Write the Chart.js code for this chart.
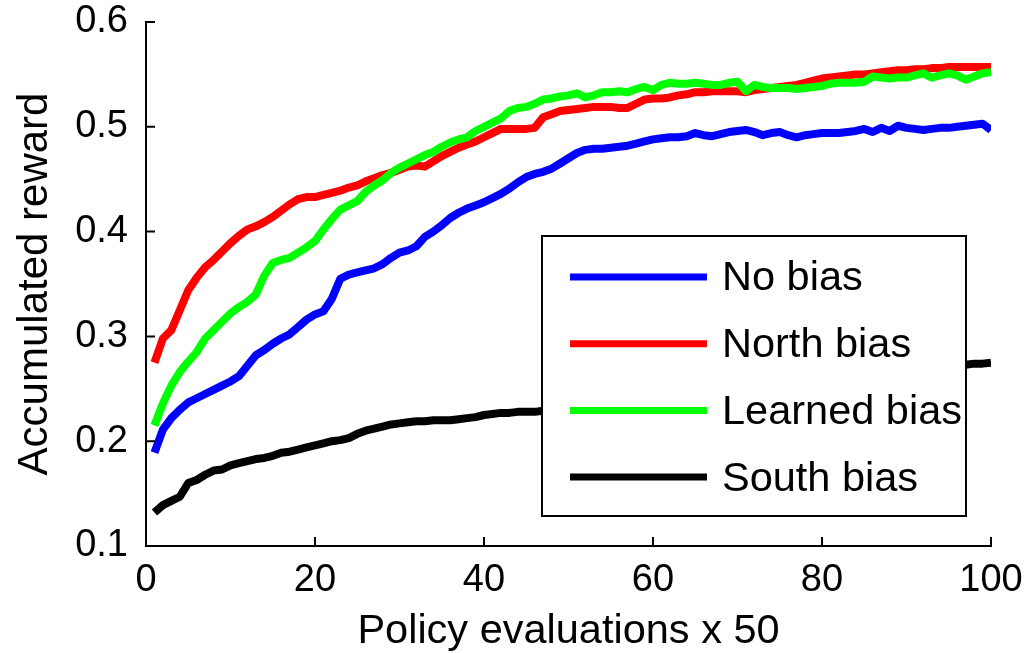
<!DOCTYPE html>
<html>
<head>
<meta charset="utf-8">
<title>Accumulated reward</title>
<script src="https://cdn.jsdelivr.net/npm/chart.js@4.4.1/dist/chart.umd.min.js"></script>
<style>
    html, body { margin: 0; padding: 0; background: #fff; }
    #wrap { width: 1036px; height: 653px; }
</style>
</head>
<body>
<div id="wrap"><canvas id="rewardChart" width="1036" height="653"></canvas></div>
<script>
// evaluations 1..100 (x 50 policy evaluations)
const evaluations = Array.from({ length: 100 }, (_, i) => i + 1);

const seriesNames = ['No bias', 'North bias', 'Learned bias', 'South bias'];
const seriesColors = ['#0000ff', '#ff0000', '#00ff00', '#000000'];

const noBias = [
    0.189, 0.211, 0.222, 0.230, 0.237, 0.241, 0.245, 0.249, 0.253, 0.257,
    0.262, 0.272, 0.282, 0.287, 0.293, 0.298, 0.302, 0.309, 0.316, 0.321,
    0.324, 0.336, 0.355, 0.359, 0.361, 0.363, 0.365, 0.369, 0.375, 0.380,
    0.382, 0.386, 0.395, 0.400, 0.406, 0.413, 0.418, 0.422, 0.425, 0.428,
    0.432, 0.436, 0.441, 0.447, 0.452, 0.455, 0.457, 0.460, 0.465, 0.470,
    0.475, 0.478, 0.479, 0.479, 0.480, 0.481, 0.482, 0.484, 0.486, 0.488,
    0.489, 0.490, 0.490, 0.491, 0.494, 0.492, 0.491, 0.493, 0.495, 0.496,
    0.497, 0.495, 0.492, 0.494, 0.495, 0.492, 0.490, 0.492, 0.493, 0.494,
    0.494, 0.494, 0.495, 0.496, 0.498, 0.495, 0.499, 0.496, 0.501, 0.499,
    0.498, 0.497, 0.498, 0.499, 0.499, 0.500, 0.501, 0.502, 0.503, 0.497
];

const northBias = [
    0.275, 0.298, 0.306, 0.325, 0.344, 0.356, 0.366, 0.373, 0.381, 0.389,
    0.396, 0.402, 0.405, 0.409, 0.414, 0.420, 0.426, 0.431, 0.433, 0.433,
    0.435, 0.437, 0.439, 0.442, 0.444, 0.448, 0.451, 0.454, 0.456, 0.459,
    0.462, 0.463, 0.462, 0.467, 0.472, 0.476, 0.480, 0.483, 0.486, 0.490,
    0.494, 0.498, 0.498, 0.498, 0.498, 0.499, 0.509, 0.512, 0.515, 0.516,
    0.517, 0.518, 0.519, 0.519, 0.519, 0.518, 0.518, 0.522, 0.526, 0.527,
    0.527, 0.528, 0.530, 0.531, 0.533, 0.533, 0.534, 0.534, 0.534, 0.534,
    0.533, 0.535, 0.536, 0.537, 0.538, 0.539, 0.540, 0.542, 0.544, 0.546,
    0.547, 0.548, 0.549, 0.550, 0.550, 0.551, 0.552, 0.553, 0.554, 0.554,
    0.555, 0.555, 0.556, 0.556, 0.557, 0.557, 0.557, 0.557, 0.557, 0.557
];

const learnedBias = [
    0.215, 0.236, 0.253, 0.266, 0.276, 0.285, 0.298, 0.306, 0.314, 0.322,
    0.328, 0.333, 0.340, 0.358, 0.370, 0.373, 0.375, 0.380, 0.385, 0.391,
    0.402, 0.412, 0.421, 0.425, 0.429, 0.438, 0.444, 0.449, 0.456, 0.461,
    0.465, 0.469, 0.473, 0.476, 0.481, 0.485, 0.488, 0.490, 0.496, 0.500,
    0.504, 0.508, 0.515, 0.518, 0.519, 0.522, 0.526, 0.527, 0.529, 0.530,
    0.532, 0.528, 0.530, 0.533, 0.533, 0.534, 0.533, 0.536, 0.538, 0.535,
    0.540, 0.542, 0.541, 0.541, 0.542, 0.541, 0.540, 0.540, 0.542, 0.543,
    0.534, 0.540, 0.538, 0.537, 0.537, 0.537, 0.536, 0.537, 0.538, 0.539,
    0.541, 0.542, 0.542, 0.542, 0.543, 0.548, 0.547, 0.546, 0.547, 0.547,
    0.549, 0.551, 0.547, 0.549, 0.551, 0.549, 0.545, 0.548, 0.551, 0.552
];

const southBias = [
    0.132, 0.139, 0.143, 0.147, 0.160, 0.163, 0.168, 0.172, 0.173, 0.177,
    0.179, 0.181, 0.183, 0.184, 0.186, 0.189, 0.190, 0.192, 0.194, 0.196,
    0.198, 0.200, 0.201, 0.203, 0.207, 0.210, 0.212, 0.214, 0.216, 0.217,
    0.218, 0.219, 0.219, 0.220, 0.220, 0.220, 0.221, 0.222, 0.223, 0.225,
    0.226, 0.227, 0.227, 0.228, 0.228, 0.228, 0.229, 0.230, 0.231, 0.232,
    0.233, 0.234, 0.235, 0.236, 0.237, 0.238, 0.239, 0.240, 0.241, 0.242,
    0.243, 0.244, 0.245, 0.246, 0.247, 0.248, 0.249, 0.250, 0.251, 0.252,
    0.253, 0.253, 0.254, 0.255, 0.256, 0.257, 0.258, 0.258, 0.259, 0.260,
    0.261, 0.262, 0.262, 0.263, 0.264, 0.265, 0.266, 0.266, 0.267, 0.268,
    0.269, 0.270, 0.270, 0.271, 0.272, 0.272, 0.273, 0.274, 0.274, 0.275
];

const seriesValues = [noBias, northBias, learnedBias, southBias];
// learned bias sits on top of north bias where they overlap
const drawOrder = [4, 3, 2, 1];

const FONT = '"Liberation Sans", Arial, Helvetica, sans-serif';

// MATLAB style ticks pointing into the plot
const inwardTicks = {
    id: 'inwardTicks',
    afterDatasetsDraw(chart) {
        const { ctx, chartArea, scales } = chart;
        const len = 9;
        ctx.save();
        ctx.strokeStyle = '#000';
        ctx.lineWidth = 2;
        ctx.beginPath();
        scales.x.ticks.forEach(t => {
            const px = scales.x.getPixelForValue(t.value);
            ctx.moveTo(px, chartArea.bottom);
            ctx.lineTo(px, chartArea.bottom - len);
        });
        scales.y.ticks.forEach(t => {
            const py = scales.y.getPixelForValue(t.value);
            ctx.moveTo(chartArea.left, py);
            ctx.lineTo(chartArea.left + len, py);
        });
        ctx.stroke();
        ctx.restore();
    }
};

// boxed legend inside the plot, covers the lines beneath it
const boxLegend = {
    id: 'boxLegend',
    afterDatasetsDraw(chart) {
        const { ctx } = chart;
        const box = { x: 542, y: 236, w: 424, h: 280 };
        ctx.save();
        ctx.fillStyle = '#fff';
        ctx.fillRect(box.x, box.y, box.w, box.h);
        ctx.strokeStyle = '#000';
        ctx.lineWidth = 2;
        ctx.strokeRect(box.x, box.y, box.w, box.h);
        ctx.font = '41.5px ' + FONT;
        ctx.textBaseline = 'middle';
        ctx.fillStyle = '#000';
        chart.data.datasets.forEach((ds, i) => {
            const y = box.y + 41 + i * 66.7;
            ctx.strokeStyle = ds.borderColor;
            ctx.lineWidth = 7;
            ctx.beginPath();
            ctx.moveTo(box.x + 28, y);
            ctx.lineTo(box.x + 165, y);
            ctx.stroke();
            ctx.fillText(ds.label, box.x + 180, y + 2);
        });
        ctx.restore();
    }
};

new Chart(document.getElementById('rewardChart'), {
    type: 'line',
    data: {
        datasets: seriesNames.map((name, i) => ({
            label: name,
            data: evaluations.map((x, j) => ({ x: x, y: seriesValues[i][j] })),
            borderColor: seriesColors[i],
            backgroundColor: seriesColors[i],
            borderWidth: 8,
            borderJoinStyle: 'round',
            pointRadius: 0,
            tension: 0,
            fill: false,
            order: drawOrder[i]
        }))
    },
    options: {
        responsive: false,
        animation: false,
        devicePixelRatio: 1,
        layout: { padding: { left: 0, right: 45, top: 22, bottom: 0 } },
        plugins: {
            legend: { display: false },
            tooltip: { enabled: false }
        },
        scales: {
            x: {
                type: 'linear',
                min: 0,
                max: 100,
                afterFit: scale => { scale.height = 107; },
                grid: { display: false, drawTicks: false },
                border: { display: true, color: '#000', width: 2 },
                ticks: {
                    stepSize: 20,
                    padding: 12,
                    color: '#000',
                    font: { family: FONT, size: 38 },
                    maxRotation: 0
                },
                title: {
                    display: true,
                    text: 'Policy evaluations x 50',
                    color: '#000',
                    font: { family: FONT, size: 41.5, lineHeight: 1 },
                    padding: { top: 0, bottom: 1 }
                }
            },
            y: {
                min: 0.1,
                max: 0.6,
                afterFit: scale => {
                    scale.width = 146;
                    // keep the plot top fixed by the layout padding
                    scale.paddingTop = 0;
                    scale.paddingBottom = 0;
                },
                grid: { display: false, drawTicks: false },
                border: { display: true, color: '#000', width: 2 },
                ticks: {
                    stepSize: 0.1,
                    padding: 18,
                    color: '#000',
                    font: { family: FONT, size: 38 },
                    callback: v => v.toFixed(1)
                },
                title: {
                    display: true,
                    text: 'Accumulated reward',
                    color: '#000',
                    font: { family: FONT, size: 42, lineHeight: 1 },
                    padding: { top: 14, bottom: 0 }
                }
            }
        }
    },
    plugins: [inwardTicks, boxLegend]
});
</script>
</body>
</html>
